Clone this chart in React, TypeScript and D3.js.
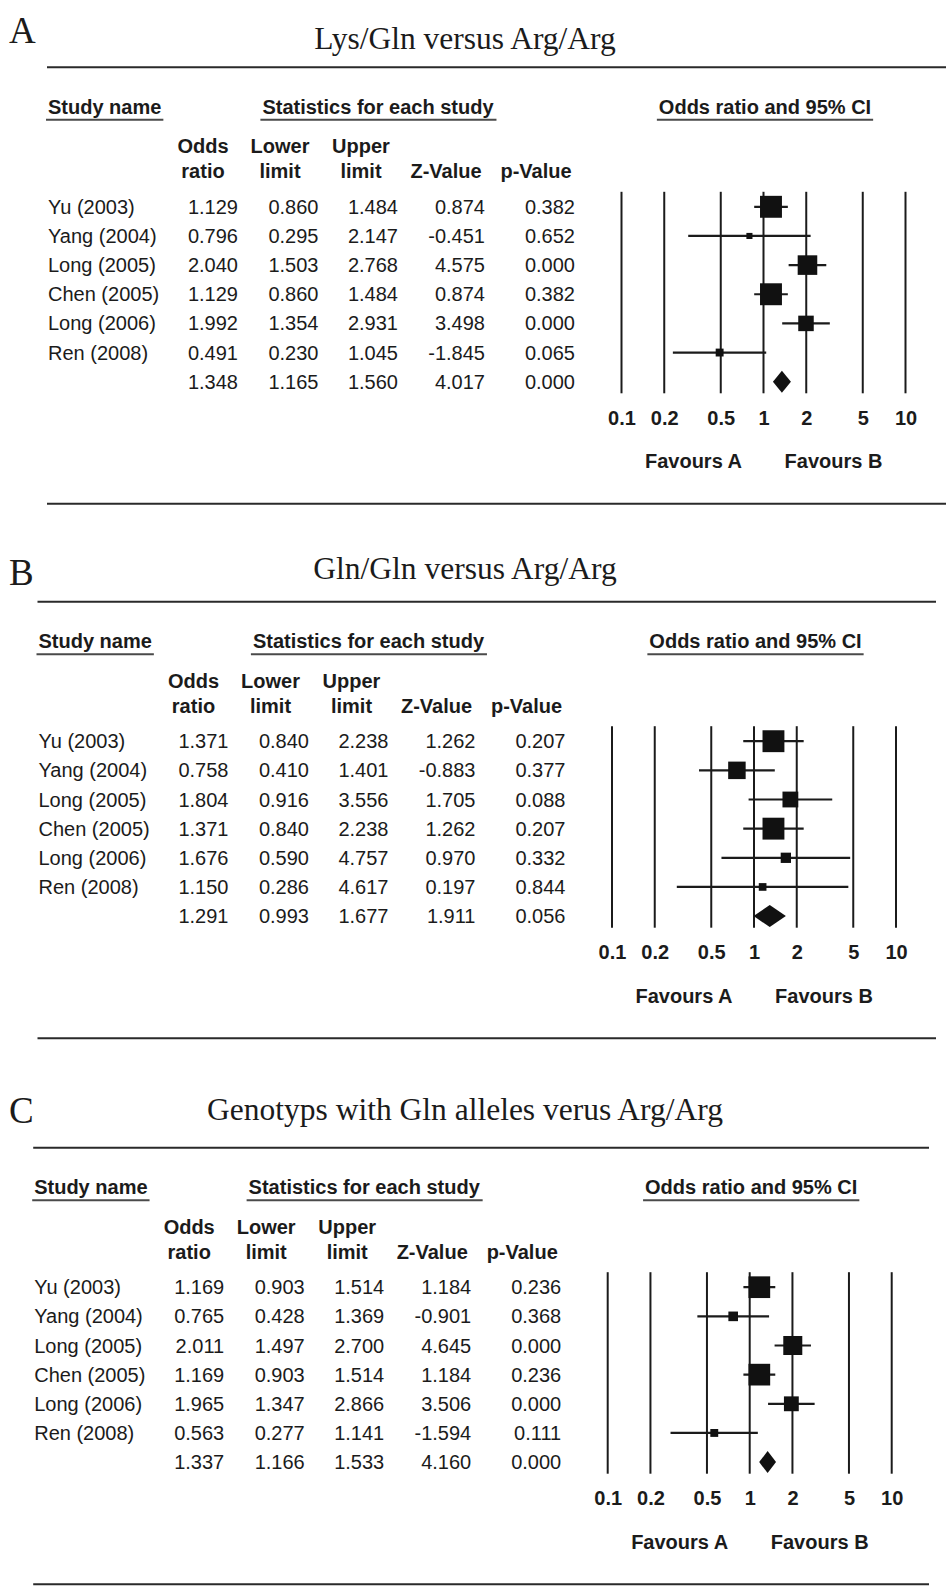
import * as d3 from 'd3';
import { useEffect, useRef } from 'react';

// study labels (last row is the pooled estimate, no name)
const studies = ['Yu (2003)', 'Yang (2004)', 'Long (2005)', 'Chen (2005)', 'Long (2006)', 'Ren (2008)', ''];
const tickValues = [0.1, 0.2, 0.5, 1, 2, 5, 10];
const colHeads = [['Odds', 'ratio'], ['Lower', 'limit'], ['Upper', 'limit'], ['', 'Z-Value'], ['', 'p-Value']];

// A: Lys/Gln versus Arg/Arg
const titleA = 'Lys/Gln versus Arg/Arg';
const oddsA = [1.129, 0.796, 2.04, 1.129, 1.992, 0.491, 1.348];
const lowerA = [0.86, 0.295, 1.503, 0.86, 1.354, 0.23, 1.165];
const upperA = [1.484, 2.147, 2.768, 1.484, 2.931, 1.045, 1.56];
const zA = [0.874, -0.451, 4.575, 0.874, 3.498, -1.845, 4.017];
const pA = [0.382, 0.652, 0.0, 0.382, 0.0, 0.065, 0.0];
const weightA = [28.6, 2.2, 22.8, 28.6, 14.3, 3.7];

// B: Gln/Gln versus Arg/Arg
const titleB = 'Gln/Gln versus Arg/Arg';
const oddsB = [1.371, 0.758, 1.804, 1.371, 1.676, 1.15, 1.291];
const lowerB = [0.84, 0.41, 0.916, 0.84, 0.59, 0.286, 0.993];
const upperB = [2.238, 1.401, 3.556, 2.238, 4.757, 4.617, 1.677];
const zB = [1.262, -0.883, 1.705, 1.262, 0.97, 0.197, 1.911];
const pB = [0.207, 0.377, 0.088, 0.207, 0.332, 0.844, 0.056];
const weightB = [28.5, 18.2, 14.9, 28.5, 6.3, 3.5];

// C: Genotyps with Gln alleles verus Arg/Arg
const titleC = 'Genotyps with Gln alleles verus Arg/Arg';
const oddsC = [1.169, 0.765, 2.011, 1.169, 1.965, 0.563, 1.337];
const lowerC = [0.903, 0.428, 1.497, 0.903, 1.347, 0.277, 1.166];
const upperC = [1.514, 1.369, 2.7, 1.514, 2.866, 1.141, 1.533];
const zC = [1.184, -0.901, 4.645, 1.184, 3.506, -1.594, 4.16];
const pC = [0.236, 0.368, 0.0, 0.236, 0.0, 0.111, 0.0];
const weightC = [28.0, 5.5, 21.5, 28.0, 13.1, 3.7];

const panels = [
  { letter: 'A', title: titleA, odds: oddsA, lower: lowerA, upper: upperA, z: zA, p: pA, weight: weightA, ruleY: 67.3, dx: 0, letterY: 43, titleY: 49, ruleX2: 946 },
  { letter: 'B', title: titleB, odds: oddsB, lower: lowerB, upper: upperB, z: zB, p: pB, weight: weightB, ruleY: 601.7, dx: -9.5, letterY: 584.5, titleY: 579, ruleX2: 936 },
  { letter: 'C', title: titleC, odds: oddsC, lower: lowerC, upper: upperC, z: zC, p: pC, weight: weightC, ruleY: 1147.7, dx: -13.8, letterY: 1123, titleY: 1120, ruleX2: 929 },
];

const SANS = '"Liberation Sans", Arial, sans-serif';
const SERIF = '"Liberation Serif", "Times New Roman", serif';
const INK = '#1b1b1b';

const App = () => {
  const svgRef = useRef<SVGSVGElement>(null);

  useEffect(() => {
    const svg = d3.select(svgRef.current);
    svg.selectAll('*').remove();

    const headCenters = [203, 280, 361, 446, 536];
    const dataRight = [238, 318.5, 398, 485, 575];
    const rowStep = 29.15;
    const size = d3.scaleSqrt().domain([0, 100]).range([0, 41]);

    panels.forEach((pn) => {
      const R = pn.ruleY;
      const dx = pn.dx;
      const g = svg.append('g');

      g.append('text').attr('x', 9).attr('y', pn.letterY).text(pn.letter)
        .style('font', `37px ${SERIF}`).attr('fill', INK);
      g.append('text').attr('x', 465).attr('y', pn.titleY).attr('text-anchor', 'middle').text(pn.title)
        .style('font', `31.5px ${SERIF}`).attr('fill', INK);

      // rules above and below
      [R, R + 436.5].forEach((y) => {
        g.append('line').attr('x1', 47 + dx).attr('x2', pn.ruleX2).attr('y1', y).attr('y2', y)
          .attr('stroke', '#2a2a2a').attr('stroke-width', 2);
      });

      // underlined section headers
      const heads = [
        { t: 'Study name', x: 48, a: 'start' },
        { t: 'Statistics for each study', x: 378, a: 'middle' },
        { t: 'Odds ratio and 95% CI', x: 765, a: 'middle' },
      ];
      heads.forEach((h) => {
        const t = g.append('text').attr('x', h.x + dx).attr('y', R + 46.5).attr('text-anchor', h.a)
          .text(h.t).style('font', `bold 20px ${SANS}`).attr('fill', INK);
        const bb = (t.node() as SVGTextElement).getBBox();
        g.append('line').attr('x1', bb.x - 2).attr('x2', bb.x + bb.width + 2)
          .attr('y1', R + 52.5).attr('y2', R + 52.5).attr('stroke', '#4a4a4a').attr('stroke-width', 2);
      });

      // column headers
      colHeads.forEach((lines, j) => {
        lines.forEach((s, k) => {
          if (!s) return;
          g.append('text').attr('x', headCenters[j] + dx).attr('y', R + 86 + k * 25)
            .attr('text-anchor', 'middle').text(s).style('font', `bold 20px ${SANS}`).attr('fill', INK);
        });
      });

      // table rows
      studies.forEach((name, i) => {
        const cy = R + 139.5 + i * rowStep;
        g.append('text').attr('x', 48 + dx).attr('y', cy + 7).text(name)
          .style('font', `20px ${SANS}`).attr('fill', INK);
        const vals = [pn.odds[i], pn.lower[i], pn.upper[i], pn.z[i], pn.p[i]];
        vals.forEach((v, j) => {
          g.append('text').attr('x', dataRight[j] + dx).attr('y', cy + 7).attr('text-anchor', 'end')
            .text(v.toFixed(3)).style('font', `20px ${SANS}`).attr('fill', INK);
        });
      });

      // forest plot
      const x = d3.scaleLog().domain([0.1, 10]).range([621.5 + dx, 905.5 + dx]);

      g.append('g').selectAll('line').data(tickValues).join('line')
        .attr('x1', (d) => x(d)).attr('x2', (d) => x(d))
        .attr('y1', R + 124.5).attr('y2', R + 326)
        .attr('stroke', INK).attr('stroke-width', 2);

      const rows = pn.odds.slice(0, 6).map((o, i) => ({
        o, lo: pn.lower[i], hi: pn.upper[i], w: pn.weight[i], cy: R + 139.5 + i * rowStep,
      }));

      g.append('g').selectAll('line').data(rows).join('line')
        .attr('x1', (d) => x(d.lo)).attr('x2', (d) => x(d.hi))
        .attr('y1', (d) => d.cy).attr('y2', (d) => d.cy)
        .attr('stroke', INK).attr('stroke-width', 2.2);

      g.append('g').selectAll('rect').data(rows).join('rect')
        .attr('x', (d) => x(d.o) - size(d.w) / 2).attr('y', (d) => d.cy - size(d.w) / 2)
        .attr('width', (d) => size(d.w)).attr('height', (d) => size(d.w))
        .attr('fill', '#111');

      const sy = R + 139.5 + 6 * rowStep;
      const dm = [
        [x(pn.lower[6]), sy], [x(pn.odds[6]), sy - 11], [x(pn.upper[6]), sy], [x(pn.odds[6]), sy + 11],
      ];
      g.append('path').attr('d', d3.line()(dm as [number, number][]) + 'Z').attr('fill', '#111');

      // axis labels
      const ax = g.append('g').attr('transform', `translate(0,${R + 350})`)
        .call(d3.axisBottom(x).tickValues(tickValues).tickFormat((d) => String(d)).tickSize(0));
      ax.select('.domain').remove();
      ax.selectAll('text').attr('y', 0).attr('dy', '0.36em')
        .style('font', `bold 20px ${SANS}`).attr('fill', INK);

      g.append('text').attr('x', x(1) - 70).attr('y', R + 401).attr('text-anchor', 'middle')
        .text('Favours A').style('font', `bold 20px ${SANS}`).attr('fill', INK);
      g.append('text').attr('x', x(1) + 70).attr('y', R + 401).attr('text-anchor', 'middle')
        .text('Favours B').style('font', `bold 20px ${SANS}`).attr('fill', INK);
    });
  }, []);

  return (
    <svg ref={svgRef} width={951} height={1586}
      style={{ position: 'absolute', left: 0, top: 0, background: '#fff', display: 'block' }} />
  );
};

export default App;
